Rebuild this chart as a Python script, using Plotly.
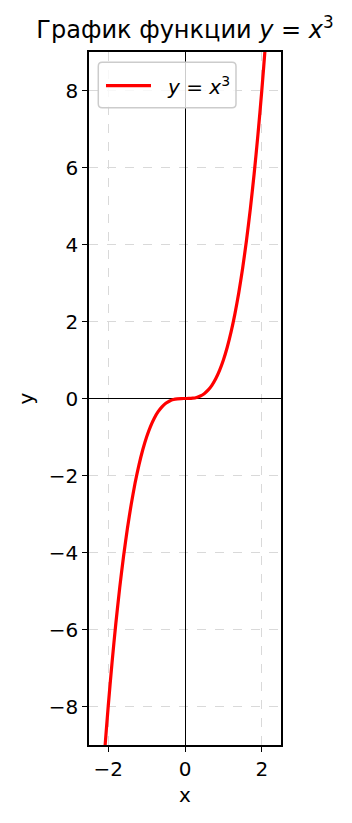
import plotly.graph_objects as go

# Data points on the curve y = x^3
x_vals = [-2.2, -2.1, -2.0, -1.9, -1.8, -1.7, -1.6, -1.5, -1.4, -1.3, -1.2, -1.1, -1.0,
          -0.9, -0.8, -0.7, -0.6, -0.5, -0.4, -0.3, -0.2, -0.1, 0.0,
          0.1, 0.2, 0.3, 0.4, 0.5, 0.6, 0.7, 0.8, 0.9, 1.0,
          1.1, 1.2, 1.3, 1.4, 1.5, 1.6, 1.7, 1.8, 1.9, 2.0, 2.1, 2.2]
y_vals = [-10.648, -9.261, -8.0, -6.859, -5.832, -4.913, -4.096, -3.375, -2.744, -2.197, -1.728, -1.331, -1.0,
          -0.729, -0.512, -0.343, -0.216, -0.125, -0.064, -0.027, -0.008, -0.001, 0.0,
          0.001, 0.008, 0.027, 0.064, 0.125, 0.216, 0.343, 0.512, 0.729, 1.0,
          1.331, 1.728, 2.197, 2.744, 3.375, 4.096, 4.913, 5.832, 6.859, 8.0, 9.261, 10.648]

x_ticks = [-2, 0, 2]
x_tick_labels = ["−2", "0", "2"]
y_ticks = [-8, -6, -4, -2, 0, 2, 4, 6, 8]
y_tick_labels = ["−8", "−6", "−4", "−2", "0", "2", "4", "6", "8"]

series_name = "<i>y</i> = <i>x</i><sup>3</sup>"
title_text = "График функции <i>y</i> = <i>x</i><sup>3</sup>"

FONT = "DejaVu Sans"
LINE_COLOR = "red"
LINE_WIDTH = 3.2

fig = go.Figure()
fig.add_trace(go.Scatter(
    x=x_vals, y=y_vals, mode="lines",
    line=dict(color=LINE_COLOR, width=LINE_WIDTH, shape="spline", smoothing=0.6),
    name=series_name, showlegend=False,
))

axis_common = dict(
    showline=True, linecolor="black", linewidth=1.5, mirror=True,
    ticks="outside", ticklen=5, tickwidth=1.3, tickcolor="black",
    showgrid=True, gridcolor="#d9d9d9", griddash="dash", gridwidth=1,
    zeroline=True, zerolinecolor="black", zerolinewidth=1.3,
    tickfont=dict(family=FONT, size=20, color="black"),
)

# Legend box (matplotlib-style, rounded, semi-transparent), in paper coords
lx0, lx1 = 0.0484, 0.7656
ly0, ly1 = 0.9196, 0.9851
rx, ry = 0.02, 0.0058
legend_path = (
    f"M {lx0+rx},{ly1} L {lx1-rx},{ly1} Q {lx1},{ly1} {lx1},{ly1-ry} "
    f"L {lx1},{ly0+ry} Q {lx1},{ly0} {lx1-rx},{ly0} "
    f"L {lx0+rx},{ly0} Q {lx0},{ly0} {lx0},{ly0+ry} "
    f"L {lx0},{ly1-ry} Q {lx0},{ly1} {lx0+rx},{ly1} Z"
)
legend_y = 0.9514

fig.update_layout(
    width=352, height=823,
    margin=dict(l=89, r=71, t=52, b=78),
    paper_bgcolor="white", plot_bgcolor="white",
    font=dict(family=FONT, color="black"),
    title=dict(
        text=title_text,
        x=0.5, xanchor="center", xref="paper",
        y=1 - 30 / 823, yanchor="middle",
        font=dict(family=FONT, size=24, color="black"),
    ),
    xaxis=dict(range=[-2.5, 2.5], tickvals=x_ticks, ticktext=x_tick_labels,
               title=dict(text="x", font=dict(family=FONT, size=20), standoff=8),
               **axis_common),
    yaxis=dict(range=[-9, 9], tickvals=y_ticks, ticktext=y_tick_labels,
               title=dict(text="y", font=dict(family=FONT, size=20), standoff=10),
               **axis_common),
    showlegend=False,
    shapes=[
        dict(type="path", xref="paper", yref="paper", path=legend_path,
             fillcolor="rgba(255,255,255,0.8)", line=dict(color="#cccccc", width=1.5),
             layer="above"),
        dict(type="line", xref="paper", yref="paper",
             x0=0.0885, x1=0.3229, y0=legend_y, y1=legend_y,
             line=dict(color=LINE_COLOR, width=LINE_WIDTH), layer="above"),
    ],
    annotations=[
        dict(text=series_name, xref="paper", yref="paper", x=0.398, y=legend_y,
             xanchor="left", yanchor="middle", showarrow=False,
             font=dict(family=FONT, size=20, color="black")),
    ],
)

fig.write_html("out.html")
